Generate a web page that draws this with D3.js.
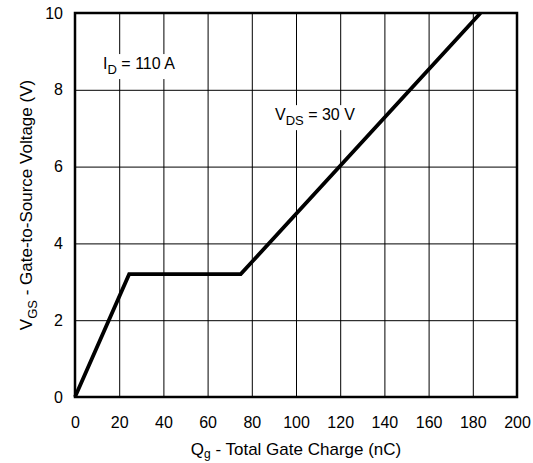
<!DOCTYPE html>
<html>
<head>
<meta charset="utf-8">
<script src="https://cdn.jsdelivr.net/npm/d3@7"></script>
<style>
  body { margin: 0; background: #fff; }
  text { font-family: "Liberation Sans", Arial, sans-serif; fill: #000; }
</style>
</head>
<body>
<div id="graph"></div>
<script>
// gate charge curve, Qg (nC) vs VGS (V)
const qg = [0, 24.5, 75, 183.5];
const vgs = [0, 3.2, 3.2, 10];
const xTicks = [0, 20, 40, 60, 80, 100, 120, 140, 160, 180, 200];
const yTicks = [0, 2, 4, 6, 8, 10];

const margin = { top: 13, right: 16, bottom: 66, left: 75 };
const W = 533, H = 463;
const width = W - margin.left - margin.right;
const height = H - margin.top - margin.bottom;

const x = d3.scaleLinear().domain([0, 200]).range([0, width]);
const y = d3.scaleLinear().domain([0, 10]).range([height, 0]);

const svg = d3.select("#graph").append("svg")
  .attr("width", W)
  .attr("height", H)
  .append("g")
  .attr("transform", "translate(" + margin.left + "," + margin.top + ")");

// grid
svg.append("g")
  .attr("transform", "translate(0," + height + ")")
  .call(d3.axisBottom(x).tickValues(xTicks).tickSize(-height).tickFormat(""))
  .call(g => g.select(".domain").remove())
  .selectAll("line").attr("stroke", "#000").attr("stroke-width", 1);

svg.append("g")
  .call(d3.axisLeft(y).tickValues(yTicks).tickSize(-width).tickFormat(""))
  .call(g => g.select(".domain").remove())
  .selectAll("line").attr("stroke", "#000").attr("stroke-width", 1);

// tick labels
svg.append("g")
  .attr("transform", "translate(0," + height + ")")
  .call(d3.axisBottom(x).tickValues(xTicks).tickSize(0).tickPadding(20).tickFormat(d3.format("d")))
  .call(g => g.select(".domain").remove())
  .selectAll("text").style("font-size", "16px").style("font-family", "Liberation Sans, Arial, sans-serif");

svg.append("g")
  .call(d3.axisLeft(y).tickValues(yTicks).tickSize(0).tickPadding(12).tickFormat(d3.format("d")))
  .call(g => g.select(".domain").remove())
  .selectAll("text").style("font-size", "16px").style("font-family", "Liberation Sans, Arial, sans-serif");

// frame
svg.append("rect")
  .attr("width", width)
  .attr("height", height)
  .attr("fill", "none")
  .attr("stroke", "#000")
  .attr("stroke-width", 2.5);

// curve
const line = d3.line().x(d => x(d[0])).y(d => y(d[1]));
svg.append("path")
  .datum(qg.map((q, i) => [q, vgs[i]]))
  .attr("d", line)
  .attr("fill", "none")
  .attr("stroke", "#000")
  .attr("stroke-width", 3.8)
  .attr("stroke-linejoin", "miter");

// text with subscript, optional white box behind it
function subLabel(parent, main, sub, rest, size, subSize, shift) {
  const t = parent.append("text").style("font-size", size + "px");
  t.append("tspan").text(main);
  t.append("tspan").attr("dy", shift).style("font-size", subSize + "px").text(sub);
  t.append("tspan").attr("dy", -shift).text(rest);
  return t;
}

function boxed(t) {
  const b = t.node().getBBox();
  svg.insert("rect", () => t.node())
    .attr("x", b.x - 3).attr("y", b.y - 1)
    .attr("width", b.width + 6).attr("height", b.height + 3)
    .attr("fill", "#fff");
}

const idLabel = subLabel(svg, "I", "D", " = 110 A", 16, 13, 5)
  .attr("x", x(12.7))
  .attr("y", y(8.54));
boxed(idLabel);

const vdsLabel = subLabel(svg, "V", "DS", " = 30 V", 16, 13, 5)
  .attr("x", x(90.5))
  .attr("y", y(7.21));
boxed(vdsLabel);

// axis titles
subLabel(svg, "Q", "g", " - Total Gate Charge (nC)", 17, 12, 3)
  .attr("x", width / 2)
  .attr("y", height + 58)
  .attr("text-anchor", "middle");

subLabel(svg, "V", "GS", " - Gate-to-Source Voltage (V)", 17, 13, 5)
  .attr("transform", "rotate(-90)")
  .attr("x", -height / 2)
  .attr("y", -margin.left + 32)
  .attr("text-anchor", "middle");
</script>
</body>
</html>
